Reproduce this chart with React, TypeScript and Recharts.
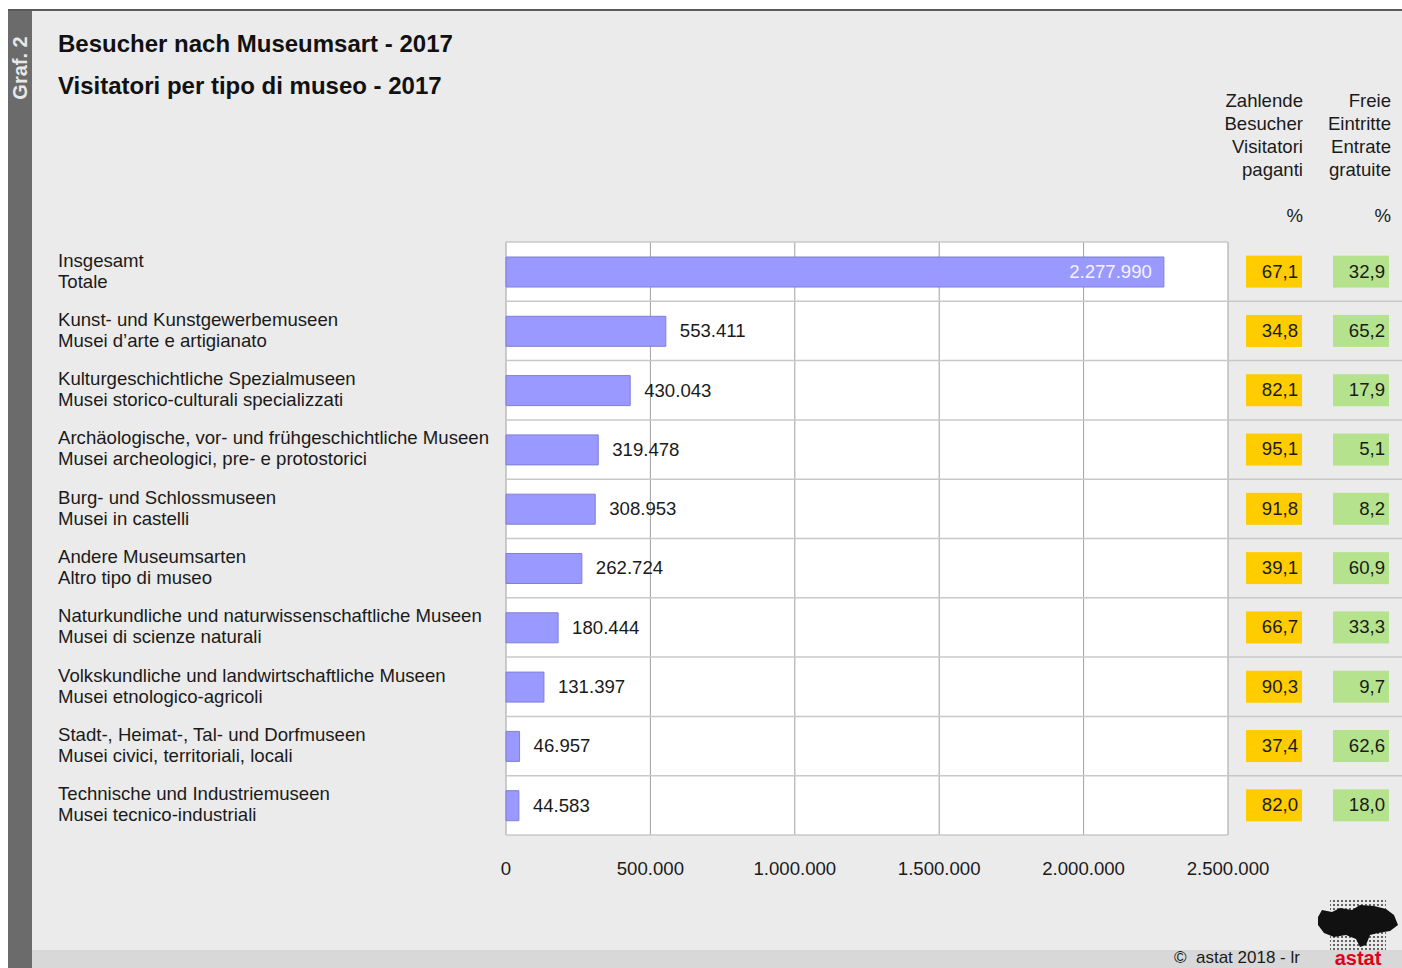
import { BarChart, Bar, XAxis, YAxis, CartesianGrid, LabelList } from "recharts";

const categoriesDe = [
  "Insgesamt",
  "Kunst- und Kunstgewerbemuseen",
  "Kulturgeschichtliche Spezialmuseen",
  "Archäologische, vor- und frühgeschichtliche Museen",
  "Burg- und Schlossmuseen",
  "Andere Museumsarten",
  "Naturkundliche und naturwissenschaftliche Museen",
  "Volkskundliche und landwirtschaftliche Museen",
  "Stadt-, Heimat-, Tal- und Dorfmuseen",
  "Technische und Industriemuseen",
];

const categoriesIt = [
  "Totale",
  "Musei d’arte e artigianato",
  "Musei storico-culturali specializzati",
  "Musei archeologici, pre- e protostorici",
  "Musei in castelli",
  "Altro tipo di museo",
  "Musei di scienze naturali",
  "Musei etnologico-agricoli",
  "Musei civici, territoriali, locali",
  "Musei tecnico-industriali",
];

const visitors = [2277990, 553411, 430043, 319478, 308953, 262724, 180444, 131397, 46957, 44583];
const paidPct = [67.1, 34.8, 82.1, 95.1, 91.8, 39.1, 66.7, 90.3, 37.4, 82.0];
const freePct = [32.9, 65.2, 17.9, 5.1, 8.2, 60.9, 33.3, 9.7, 62.6, 18.0];
const xTicks = [0, 500000, 1000000, 1500000, 2000000, 2500000];

const data = categoriesDe.map((de, i) => ({
  key: de,
  it: categoriesIt[i],
  visitors: visitors[i],
}));

const FONT = "Arial, 'Liberation Sans', Helvetica, sans-serif";
const FS = 18.6;
const fmtNum = (v: number) => String(v).replace(/\B(?=(\d{3})+(?!\d))/g, ".");
const fmtPct = (v: number) => v.toFixed(1).replace(".", ",");

const LeftTick = (props: any) => {
  const { y, payload } = props;
  const i = payload.index;
  return (
    <g>
      <text x={58} y={y - 10} fontSize={FS} fill="#1a1a1a" dominantBaseline="middle" fontFamily={FONT}>
        {categoriesDe[i]}
      </text>
      <text x={58} y={y + 11} fontSize={FS} fill="#1a1a1a" dominantBaseline="middle" fontFamily={FONT}>
        {categoriesIt[i]}
      </text>
    </g>
  );
};

const RightTick = (props: any) => {
  const { x, y, payload } = props;
  const i = payload.index;
  const half = 59.3 / 2;
  return (
    <g>
      {i < categoriesDe.length - 1 && (
        <line x1={x} x2={x + 174} y1={y + half} y2={y + half} stroke="#c8c8c8" strokeWidth={1.5} />
      )}
      <rect x={x + 18} y={y - 16} width={56} height={32} fill="#ffcc00" />
      <text x={x + 70} y={y + 1} textAnchor="end" dominantBaseline="middle" fontSize={FS} fill="#1a1a1a" fontFamily={FONT}>
        {fmtPct(paidPct[i])}
      </text>
      <rect x={x + 105} y={y - 16} width={56} height={32} fill="#b5e38d" />
      <text x={x + 157} y={y + 1} textAnchor="end" dominantBaseline="middle" fontSize={FS} fill="#1a1a1a" fontFamily={FONT}>
        {fmtPct(freePct[i])}
      </text>
    </g>
  );
};

const BarLabel = (props: any) => {
  const { x, y, width, height, value, index } = props;
  const inside = index === 0;
  return (
    <text
      x={inside ? x + width - 12 : x + width + 14}
      y={y + height / 2 + 1}
      textAnchor={inside ? "end" : "start"}
      dominantBaseline="middle"
      fontSize={FS}
      fill={inside ? "#f4f4ff" : "#1a1a1a"}
      fontFamily={FONT}
    >
      {fmtNum(value)}
    </text>
  );
};

export default function App() {
  return (
    <div style={{ position: "absolute", left: 0, top: 0, width: 1402, height: 968, background: "#fff", overflow: "hidden", fontFamily: FONT }}>
      <div style={{ position: "absolute", left: 8, top: 9, width: 1394, height: 959, background: "#ebebeb", borderTop: "2px solid #5a5a5a" }} />
      <div style={{ position: "absolute", left: 8, top: 11, width: 24, height: 957, background: "#6b6b6b" }} />
      <div style={{ position: "absolute", left: 32, top: 950, width: 1370, height: 18, background: "#d8d8d8" }} />
      <div
        style={{
          position: "absolute",
          left: 20,
          top: 68,
          transform: "translate(-50%, -50%) rotate(-90deg)",
          color: "#e8e8e8",
          fontWeight: "bold",
          fontSize: 20,
          whiteSpace: "nowrap",
        }}
      >
        Graf. 2
      </div>
      <div style={{ position: "absolute", left: 58, top: 30, fontSize: 24, fontWeight: "bold", color: "#111" }}>
        Besucher nach Museumsart - 2017
      </div>
      <div style={{ position: "absolute", left: 58, top: 72, fontSize: 24, fontWeight: "bold", color: "#111" }}>
        Visitatori per tipo di museo - 2017
      </div>
      <div style={{ position: "absolute", right: 1402 - 1303, top: 89, fontSize: FS, lineHeight: "23px", textAlign: "right", color: "#1a1a1a" }}>
        Zahlende<br />Besucher<br />Visitatori<br />paganti
      </div>
      <div style={{ position: "absolute", right: 1402 - 1391, top: 89, fontSize: FS, lineHeight: "23px", textAlign: "right", color: "#1a1a1a" }}>
        Freie<br />Eintritte<br />Entrate<br />gratuite
      </div>
      <div style={{ position: "absolute", right: 1402 - 1303, top: 205, fontSize: FS, color: "#1a1a1a" }}>%</div>
      <div style={{ position: "absolute", right: 1402 - 1391, top: 205, fontSize: FS, color: "#1a1a1a" }}>%</div>

      <div style={{ position: "absolute", left: 0, top: 0 }}>
        <BarChart
          width={1402}
          height={968}
          data={data}
          layout="vertical"
          margin={{ top: 242, right: 0, bottom: 93, left: 0 }}
          barCategoryGap={0}
        >
          <CartesianGrid horizontal={false} vertical stroke="#a0a0a0" fill="#ffffff" />
          <CartesianGrid
            vertical={false}
            horizontal
            stroke="#c8c8c8"
            strokeWidth={1.5}
            horizontalCoordinatesGenerator={({ offset }: any) =>
              Array.from({ length: 11 }, (_, i) => offset.top + (i * offset.height) / 10)
            }
          />
          <XAxis
            type="number"
            domain={[0, 2500000]}
            ticks={xTicks}
            tickFormatter={fmtNum}
            axisLine={false}
            tickLine={false}
            tickMargin={21}
            height={40}
            interval={0}
            tick={{ fontSize: FS, fill: "#1a1a1a", fontFamily: FONT }}
          />
          <YAxis type="category" dataKey="key" width={506} axisLine={false} tickLine={false} tick={<LeftTick />} interval={0} />
          <YAxis
            yAxisId="right"
            orientation="right"
            type="category"
            dataKey="key"
            width={174}
            axisLine={false}
            tickLine={false}
            tickSize={0}
            tickMargin={0}
            tick={<RightTick />}
            interval={0}
          />
          <Bar dataKey="visitors" fill="#9999ff" stroke="#7f7fd8" strokeWidth={1} barSize={30} isAnimationActive={false}>
            <LabelList dataKey="visitors" content={<BarLabel />} />
          </Bar>
        </BarChart>
      </div>

      <div style={{ position: "absolute", left: 1174, top: 949, fontSize: 17, lineHeight: "18px", color: "#1a1a1a", whiteSpace: "pre" }}>©  astat 2018 - lr</div>
      <svg style={{ position: "absolute", left: 1312, top: 895 }} width={90} height={73}>
        <defs>
          <pattern id="dots" width={4} height={4} patternUnits="userSpaceOnUse">
            <circle cx={2} cy={2} r={1.1} fill="#444" />
          </pattern>
        </defs>
        <rect x={18} y={4} width={56} height={52} fill="url(#dots)" />
        <path
          d="M6 22 L10 15 L20 17 L28 13 L40 15 L48 10 L62 11 L74 14 L82 20 L86 30 L78 36 L66 38 L58 40 L54 50 L48 52 L44 44 L34 40 L22 42 L12 38 L6 30 Z"
          fill="#111"
        />
        <text x={46} y={70} textAnchor="middle" fontSize={20} fontWeight="bold" fill="#e2001a" fontFamily={FONT}>
          astat
        </text>
      </svg>
    </div>
  );
}
